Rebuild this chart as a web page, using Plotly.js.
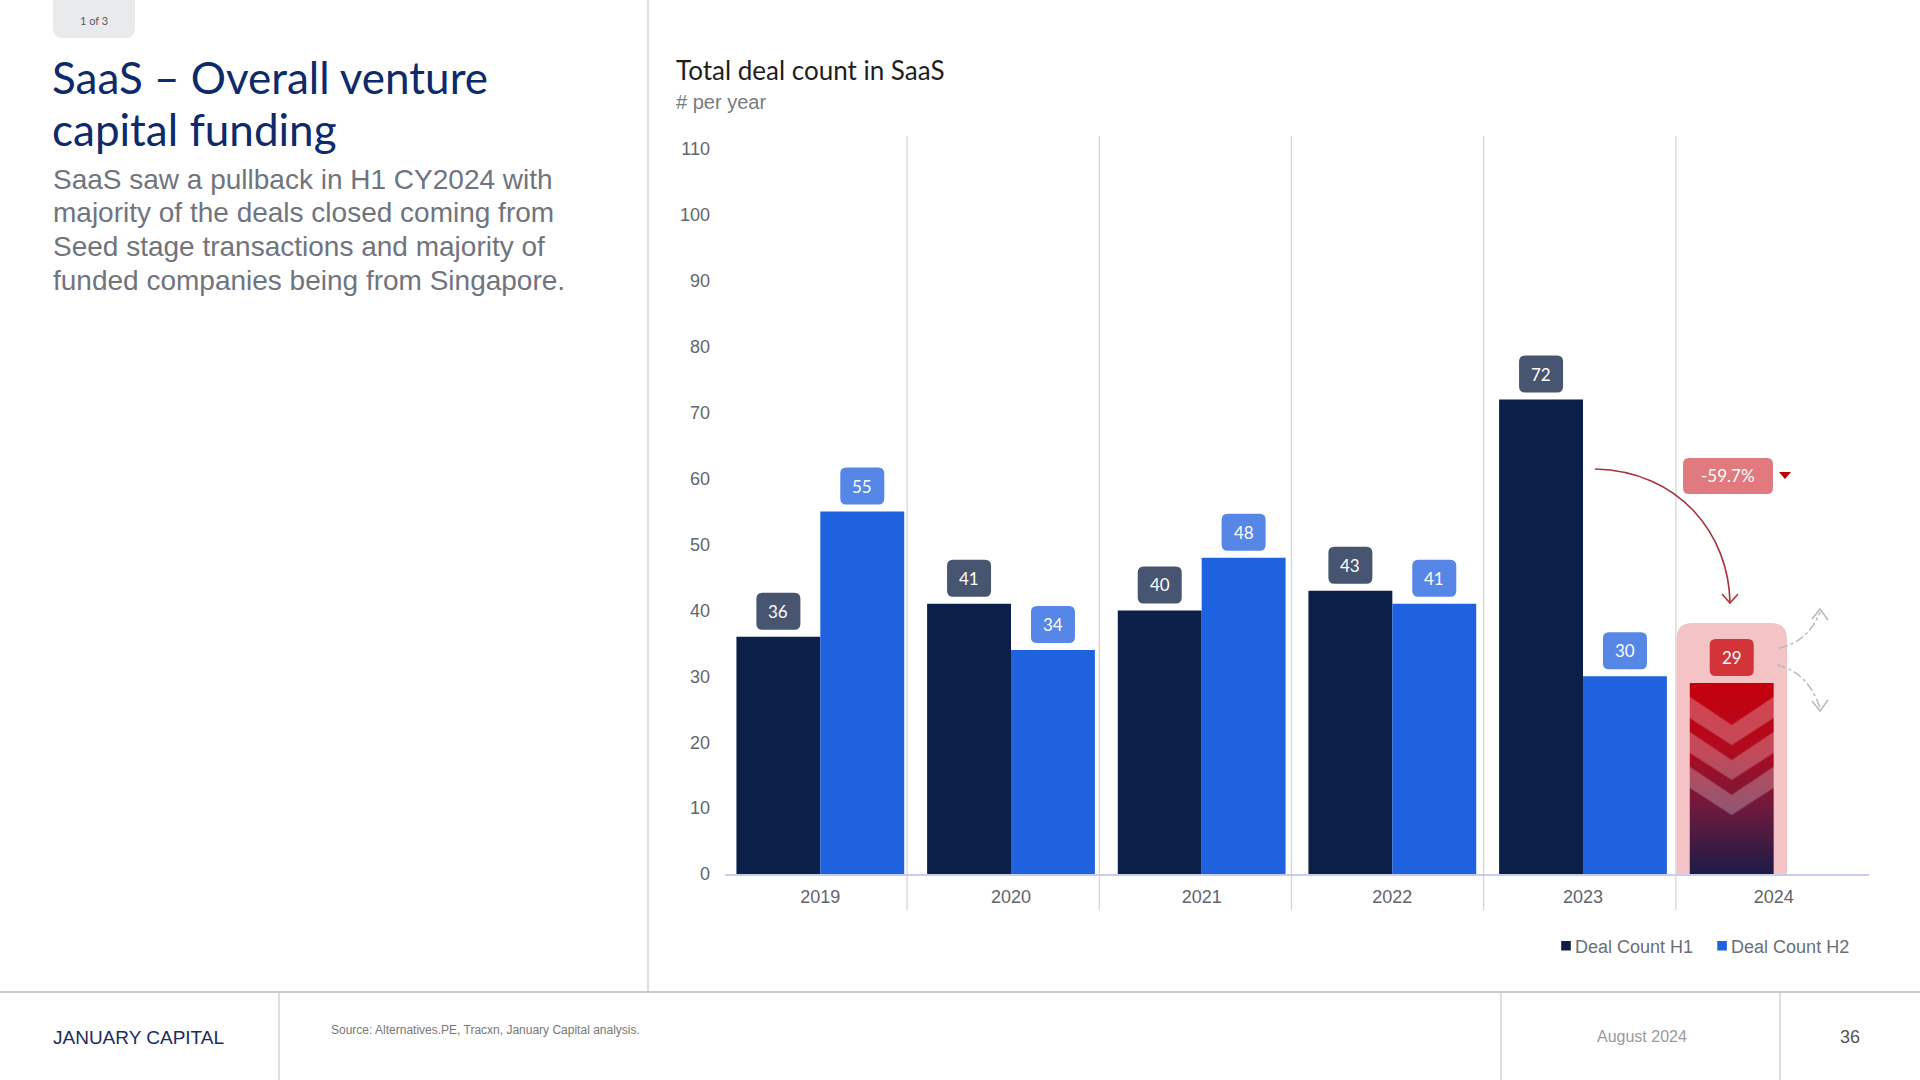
<!DOCTYPE html>
<html>
<head>
<meta charset="utf-8">
<script src="https://cdn.plot.ly/plotly-3.0.1.min.js"></script>
<style>
  html, body { margin: 0; padding: 0; background: #ffffff; }
  #chart { width: 1920px; height: 1080px; }
</style>
</head>
<body>
<svg width="0" height="0" style="position:absolute">
  <defs>
    <linearGradient id="redGrad" x1="0" y1="0" x2="0" y2="1">
      <stop offset="0" stop-color="#c6000c"/>
      <stop offset="0.35" stop-color="#b00a20"/>
      <stop offset="0.65" stop-color="#6e1a3c"/>
      <stop offset="1" stop-color="#1c1c46"/>
    </linearGradient>
    <pattern id="redChevron" patternUnits="objectBoundingBox" patternContentUnits="objectBoundingBox" width="1" height="1">
      <rect x="0" y="0" width="1" height="1" fill="url(#redGrad)"/>
      <polygon points="0,0.073 0.5,0.22 1,0.073 1,0.183 0.5,0.325 0,0.183" fill="#ffffff" fill-opacity="0.26"/>
      <polygon points="0,0.256 0.5,0.403 1,0.256 1,0.366 0.5,0.508 0,0.366" fill="#ffffff" fill-opacity="0.26"/>
      <polygon points="0,0.439 0.5,0.586 1,0.439 1,0.549 0.5,0.691 0,0.549" fill="#ffffff" fill-opacity="0.26"/>
    </pattern>
  </defs>
</svg>
<div id="chart"></div>
<script>
// ---------------- data ----------------
const years = ['2019', '2020', '2021', '2022', '2023', '2024'];
const dealCountH1 = [36, 41, 40, 43, 72, 29];
const dealCountH2 = [55, 34, 48, 41, 30, null];
const yTickValues = [0, 10, 20, 30, 40, 50, 60, 70, 80, 90, 100, 110];
const changeLabel = '-59.7%';

// ---------------- layout constants ----------------
const W = 1920, H = 1080;
const M = { l: 725, r: 51, t: 136, b: 206 };
const PW = W - M.l - M.r, PH = H - M.t - M.b;
const BARGAP = 0.12;
const OFF = (1 - BARGAP) / 4;

const NAVY = '#0c1f48';
const BLUE = '#1f62e0';
const RED = '#c6000c';
const SANS = '"Liberation Sans", Arial, Helvetica, sans-serif';
const CAL = 'Lato, "Open Sans", sans-serif';

// page pixel -> paper coordinate helpers
const X = px => (px - M.l) / PW;
const Y = py => (H - M.b - py) / PH;
function pathPx(cmds) {
  return cmds.map(c => {
    const L = c[0]; const pts = [];
    for (let i = 1; i < c.length; i += 2) pts.push(X(c[i]).toFixed(5) + ',' + Y(c[i + 1]).toFixed(5));
    return L + pts.join(' ');
  }).join(' ');
}
function rr(x0, y0, x1, y1, r) {
  return `M${x0 + r},${y0} L${x1 - r},${y0} Q${x1},${y0} ${x1},${y0 + r} L${x1},${y1 - r} Q${x1},${y1} ${x1 - r},${y1} L${x0 + r},${y1} Q${x0},${y1} ${x0},${y1 - r} L${x0},${y0 + r} Q${x0},${y0} ${x0 + r},${y0} Z`;
}

const xIdx = years.map((_, i) => i);

// ---------------- traces ----------------
const h1Colors = dealCountH1.map((_, i) => i === years.length - 1 ? RED : NAVY);
const data = [
  {
    type: 'bar', name: 'Deal Count H1', x: xIdx, y: dealCountH1,
    marker: { color: h1Colors, line: { width: 0 } }, hoverinfo: 'skip'
  },
  {
    type: 'bar', name: 'Deal Count H2', x: xIdx, y: dealCountH2,
    marker: { color: BLUE, line: { width: 0 } }, hoverinfo: 'skip'
  }
];

// ---------------- shapes ----------------
const shapes = [];
const LINEC = '#c8c8c8';
// page dividers
shapes.push({ type: 'line', xref: 'paper', yref: 'paper', x0: X(648), x1: X(648), y0: Y(0), y1: Y(992), line: { color: LINEC, width: 1.2 }, layer: 'below' });
shapes.push({ type: 'line', xref: 'paper', yref: 'paper', x0: X(0), x1: X(1920), y0: Y(992), y1: Y(992), line: { color: '#b8b8b8', width: 1.5 }, layer: 'below' });
[279, 1501, 1780].forEach(px => shapes.push({ type: 'line', xref: 'paper', yref: 'paper', x0: X(px), x1: X(px), y0: Y(992), y1: Y(1080), line: { color: LINEC, width: 1.2 }, layer: 'below' }));
// "1 of 3" pill
shapes.push({ type: 'path', xref: 'paper', yref: 'paper', layer: 'below',
  path: pathPx([['M', 53, 0], ['L', 135, 0], ['L', 135, 28], ['Q', 135, 38, 125, 38], ['L', 63, 38], ['Q', 53, 38, 53, 28], ['Z']]),
  fillcolor: '#e9eaec', line: { width: 0 } });

// category separators (just right of each group)
for (let i = 0; i < years.length - 1; i++) {
  const xs = i + 0.455 + 0.008 * i;
  shapes.push({ type: 'line', xref: 'x', yref: 'paper', x0: xs, x1: xs, y0: Y(910), y1: 1,
    line: { color: '#d2d2d2', width: 1.2 }, layer: 'below' });
}

// pink highlight behind the latest year
const last = years.length - 1;
const hx0 = last - 0.51, hx1 = last + 0.07, htop = dealCountH1[last] + 9.1, rx = 0.085, ry = 2.4;
shapes.push({ type: 'path', xref: 'x', yref: 'y', layer: 'below',
  path: `M${hx0},0 L${hx0},${htop - ry} Q${hx0},${htop} ${hx0 + rx},${htop} L${hx1 - rx},${htop} Q${hx1},${htop} ${hx1},${htop - ry} L${hx1},0 Z`,
  fillcolor: '#f3c3c6', line: { width: 0 } });

// value label boxes
const annotations = [];
function valueLabel(xc, v, fill) {
  shapes.push({ type: 'path', xref: 'x', yref: 'y', xsizemode: 'pixel', ysizemode: 'pixel',
    xanchor: xc, yanchor: v, path: rr(-22, 7, 22, 44, 6), fillcolor: fill, line: { width: 0 } });
  annotations.push({ xref: 'x', yref: 'y', x: xc, y: v, yshift: 25.5, text: String(v), showarrow: false,
    font: { family: CAL, size: 17, color: '#ffffff' }, xanchor: 'center', yanchor: 'middle' });
}
dealCountH1.forEach((v, i) => { if (v != null) valueLabel(i - OFF, v, i === last ? '#d2343a' : '#475570'); });
dealCountH2.forEach((v, i) => { if (v != null) valueLabel(i + OFF, v, '#5686e6'); });

// change badge + arrow
shapes.push({ type: 'path', xref: 'paper', yref: 'paper', path: pathPx([['M', 1689, 458], ['L', 1767, 458], ['Q', 1773, 458, 1773, 464], ['L', 1773, 488], ['Q', 1773, 494, 1767, 494], ['L', 1689, 494], ['Q', 1683, 494, 1683, 488], ['L', 1683, 464], ['Q', 1683, 458, 1689, 458], ['Z']]),
  fillcolor: '#e07a7e', line: { width: 0 } });
shapes.push({ type: 'path', xref: 'paper', yref: 'paper', path: pathPx([['M', 1779, 472], ['L', 1791, 472], ['L', 1785, 479], ['Z']]),
  fillcolor: '#c00000', line: { width: 0 } });
shapes.push({ type: 'path', xref: 'paper', yref: 'paper', path: pathPx([['M', 1595, 469], ['C', 1680, 471, 1729, 535, 1730, 603]]),
  line: { color: '#a8323e', width: 1.6 } });
shapes.push({ type: 'path', xref: 'paper', yref: 'paper', path: pathPx([['M', 1722, 594], ['L', 1730, 603], ['L', 1738, 594]]),
  line: { color: '#b8323e', width: 1.6 } });
// gray dash-dot arrows
shapes.push({ type: 'path', xref: 'paper', yref: 'paper', path: pathPx([['M', 1779, 648], ['Q', 1808, 642, 1820, 612]]),
  line: { color: '#b9b9b9', width: 1.5, dash: 'dashdot' } });
shapes.push({ type: 'path', xref: 'paper', yref: 'paper', path: pathPx([['M', 1812, 619], ['L', 1820, 609], ['L', 1828, 620]]),
  line: { color: '#b9b9b9', width: 1.5 } });
shapes.push({ type: 'path', xref: 'paper', yref: 'paper', path: pathPx([['M', 1777, 665], ['Q', 1808, 672, 1820, 708]]),
  line: { color: '#b9b9b9', width: 1.5, dash: 'dashdot' } });
shapes.push({ type: 'path', xref: 'paper', yref: 'paper', path: pathPx([['M', 1812, 701], ['L', 1820, 711], ['L', 1828, 700]]),
  line: { color: '#b9b9b9', width: 1.5 } });

// ---------------- text annotations ----------------
function txt(px, py, text, font, xanchor) {
  annotations.push({ xref: 'paper', yref: 'paper', x: X(px), y: Y(py), text, showarrow: false,
    xanchor: xanchor || 'left', yanchor: 'middle', font, borderpad: 0 });
}
annotations.push({ xref: 'paper', yref: 'paper', x: X(1728), y: Y(476), text: changeLabel, showarrow: false,
  xanchor: 'center', yanchor: 'middle', font: { family: CAL, size: 17, color: '#ffffff' } });

txt(94, 21, '1 of 3', { family: CAL, size: 11, color: '#555b66' }, 'center');
txt(51, 77, 'SaaS – Overall venture', { family: CAL, size: 44, color: '#0d2a6b' });
txt(51, 129, 'capital funding', { family: CAL, size: 44, color: '#0d2a6b' });
const para = ['SaaS saw a pullback in H1 CY2024 with', 'majority of the deals closed coming from',
  'Seed stage transactions and majority of', 'funded companies being from Singapore.'];
para.forEach((s, i) => txt(52, 179 + i * 33.7, s, { family: SANS, size: 28, color: '#6f747e' }));

txt(675, 70, 'Total deal count in SaaS', { family: CAL, size: 26, color: '#1e1e1e' });
txt(675, 102, '# per year', { family: SANS, size: 20, color: '#777b82' });

txt(52, 1037, 'JANUARY CAPITAL', { family: SANS, size: 19, color: '#1b2b60' });
txt(330, 1030, 'Source: Alternatives.PE, Tracxn, January Capital analysis.', { family: SANS, size: 12, color: '#777777' });
txt(1596, 1036, 'August 2024', { family: SANS, size: 16, color: '#9a9a9a' });
txt(1850, 1037, '36', { family: SANS, size: 18, color: '#555555' }, 'center');

// ---------------- layout ----------------
const layout = {
  width: W, height: H,
  margin: M,
  paper_bgcolor: '#ffffff',
  plot_bgcolor: 'rgba(0,0,0,0)',
  barmode: 'group', bargap: BARGAP, bargroupgap: 0,
  showlegend: true,
  legend: {
    orientation: 'h', xref: 'paper', yref: 'paper', x: X(1855), xanchor: 'right', y: Y(946), yanchor: 'middle',
    font: { family: SANS, size: 18, color: '#6a6e76' }, bgcolor: 'rgba(0,0,0,0)', traceorder: 'normal',
    itemwidth: 30
  },
  xaxis: {
    type: 'linear', range: [-0.5, 5.5], tickmode: 'array', tickvals: xIdx, ticktext: years,
    showgrid: false, zeroline: false, showline: true, linecolor: '#c6cdee', linewidth: 2,
    ticks: '', ticklabelstandoff: 5, tickfont: { family: SANS, size: 18, color: '#60646c' }, fixedrange: true
  },
  yaxis: {
    range: [0, 112], tickmode: 'array', tickvals: yTickValues, ticktext: yTickValues.map(String),
    showgrid: false, zeroline: false, showline: false, ticks: '', ticklabelstandoff: 14,
    tickfont: { family: SANS, size: 18, color: '#62666e' }, fixedrange: true
  },
  shapes, annotations
};

Plotly.newPlot('chart', data, layout, { staticPlot: true, displayModeBar: false }).then(gd => {
  const tr = gd.querySelectorAll('.barlayer .trace');
  if (tr.length) {
    const paths = tr[0].querySelectorAll('.point path');
    const p = paths[last];
    if (p) p.style.fill = 'url(#redChevron)';
  }
  // smaller legend swatches, closer to the text, like the original
  gd.querySelectorAll('.legend .legendpoints path').forEach(pt => {
    pt.setAttribute('transform', 'translate(31,0) scale(0.8)');
  });
  // tighten spacing between the two legend entries
  const items = gd.querySelectorAll('.legend .traces');
  if (items.length > 1) {
    const t = items[0].getAttribute('transform') || '';
    const m = t.match(/translate\(\s*([-\d.]+)[ ,]+([-\d.]+)\s*\)/);
    if (m) items[0].setAttribute('transform', `translate(${parseFloat(m[1]) + 7},${m[2]})`);
  }
});
</script>
</body>
</html>
